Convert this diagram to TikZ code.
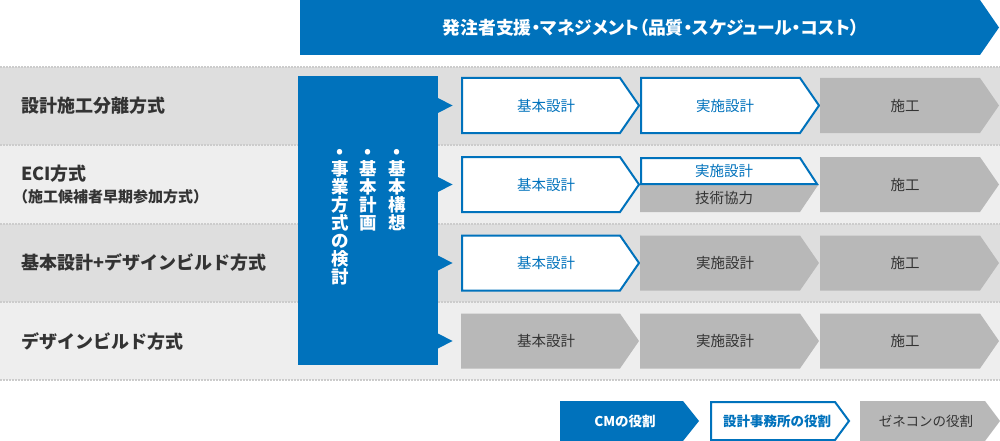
\documentclass[tikz,border=0pt]{standalone}
\usepackage{fontspec}
\setmainfont{Noto Sans CJK JP}
\newfontfamily\jpp{Noto Sans CJK JP}[RawFeature=+palt]
\definecolor{cmblue}{HTML}{0072BC}
\definecolor{bandA}{HTML}{DEDEDE}
\definecolor{bandB}{HTML}{EEEEEE}
\definecolor{gcon}{HTML}{B8B8B8}
\definecolor{txt}{HTML}{333333}
\definecolor{dotc}{HTML}{CCCCCC}
\newcommand\mychev[7]{\path[#1] (#2,#5) -- (#3,#5) -- (#4,#6) -- (#3,#7) -- (#2,#7) -- cycle;}
\begin{document}
\begin{tikzpicture}[x=1pt,y=-1pt,
  chevw/.style={fill=white,draw=cmblue,line width=2pt,line join=miter},
  chevg/.style={fill=gcon},
  chevb/.style={fill=cmblue},
  lbl/.style={font=\fontsize{18}{20}\selectfont\bfseries,text=txt,anchor=west,inner sep=0},
  ctb/.style={font=\fontsize{14.5}{16}\selectfont,text=cmblue,inner sep=0},
  ctg/.style={font=\fontsize{14.5}{16}\selectfont,text=txt,inner sep=0},
  vtxt/.style={font=\fontsize{17.5}{18}\selectfont\bfseries,text=white,align=center,inner sep=0,anchor=north},
  legt/.style={font=\fontsize{13.5}{15}\selectfont\bfseries,inner sep=0},
  sep/.style={draw=dotc,line width=1.5pt,dash pattern=on 1.5pt off 1.5pt}]
\useasboundingbox (0,0) rectangle (1000,441);
\fill[white] (0,0) rectangle (1000,441);
% bands
\fill[bandA] (0,67) rectangle (1000,145);
\fill[bandB] (0,145) rectangle (1000,224);
\fill[bandA] (0,224) rectangle (1000,302);
\fill[bandB] (0,302) rectangle (1000,380);
\foreach \yy in {67,145,224,302,380} \draw[sep] (0,\yy) -- (1000,\yy);
% banner
\mychev{chevb}{300}{980}{999}{0}{27.5}{55}
\node[font=\fontsize{17.8}{19}\selectfont\bfseries\jpp,text=white,inner sep=0] (ban) at (651,27.5) {発注者支援・マネジメント（品質・スケジュール・コスト）};
% left labels
\node[lbl] (l1) at (21,106) {設計施工分離方式};
\node[lbl] (l2) at (21,174) {ECI方式};
\node[lbl,font=\fontsize{15}{16}\selectfont\bfseries] (l2b) at (13,197) {（施工候補者早期参加方式）};
\node[lbl] (l3) at (21,263) {基本設計+デザインビルド方式};
\node[lbl] (l4) at (21,342) {デザインビルド方式};
% blue box
\node[fill=cmblue,minimum width=140pt,minimum height=289pt,inner sep=0] (bx) at (368,220.5) {};
\foreach \c in {105.5,184.5,263,341}
  \fill[cmblue] (438,\c-7.5) -- (452.5,\c) -- (438,\c+7.5) -- cycle;
\node[vtxt] (v1) at (397,149) {•\\基\\本\\構\\想};
\node[vtxt] (v2) at (368,149) {•\\基\\本\\計\\画};
\node[vtxt] (v3) at (340,149) {•\\事\\業\\方\\式\\の\\検\\討};
% row 1
\mychev{chevw}{462}{620}{639}{78}{105.5}{133}
\mychev{chevw}{641}{800}{819}{78}{105.5}{133}
\mychev{chevg}{820}{980}{999}{78}{105.5}{133}
\node[ctb] (r1a) at (546,105.5) {基本設計};
\node[ctb] (r1b) at (725,105.5) {実施設計};
\node[ctg] (r1c) at (905,105.5) {施工};
% row 2
\mychev{chevw}{462}{620}{639}{157}{184.5}{212}
\path[chevg] (640,184.5) -- (818.5,184.5) -- (800,212) -- (640,212) -- cycle;
\path[chevw] (641,158) -- (800,158) -- (817,184) -- (641,184) -- cycle;
\mychev{chevg}{820}{980}{999}{157}{184.5}{212}
\node[ctb] (r2a) at (546,184.5) {基本設計};
\node[ctb] (r2b) at (724,170.5) {実施設計};
\node[ctg] (r2c) at (724,198) {技術協力};
\node[ctg] (r2d) at (905,184.5) {施工};
% row 3
\mychev{chevw}{462}{620}{639}{235.5}{263}{290.5}
\mychev{chevg}{640}{800}{819}{235.5}{263}{290.5}
\mychev{chevg}{820}{980}{999}{235.5}{263}{290.5}
\node[ctb] (r3a) at (546,263) {基本設計};
\node[ctg] (r3b) at (725,263) {実施設計};
\node[ctg] (r3c) at (905,263) {施工};
% row 4
\mychev{chevg}{461}{620}{639}{313.5}{341}{368.5}
\mychev{chevg}{640}{800}{819}{313.5}{341}{368.5}
\mychev{chevg}{820}{980}{999}{313.5}{341}{368.5}
\node[ctg] (r4a) at (546,341) {基本設計};
\node[ctg] (r4b) at (725,341) {実施設計};
\node[ctg] (r4c) at (905,341) {施工};
% legend
\mychev{chevb}{560}{683}{699}{401}{421}{441}
\mychev{chevw}{711}{835}{849}{402}{421}{440}
\mychev{chevg}{860}{985}{1000}{401}{421}{441}
\node[legt,text=white] (g1) at (625,421) {CMの役割};
\node[legt,text=cmblue] (g2) at (777,421) {設計事務所の役割};
\node[legt,text=txt,font=\fontsize{13.5}{15}\selectfont] (g3) at (926,421) {ゼネコンの役割};
\end{tikzpicture}
\end{document}
